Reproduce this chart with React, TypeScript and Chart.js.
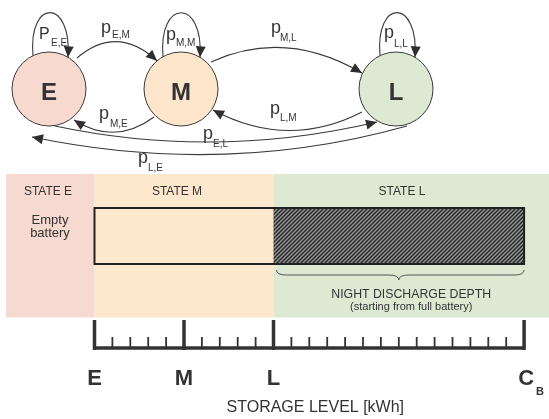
import { useEffect, useRef } from 'react';
import { Chart, registerables } from 'chart.js';

Chart.register(...registerables);

// ---------------- data ----------------
const stateNames = ['E', 'M', 'L'];
const stateLevels = [0, 5, 10]; // storage-level thresholds (axis units)
const capacityLevel = 24; // C_B
const capacityName = 'C';
const capacitySub = 'B';
const minorStep = 1;
const bandTitles = ['STATE E', 'STATE M', 'STATE L'];
const emptyNote = ['Empty', 'battery'];
const depthNote = ['NIGHT DISCHARGE DEPTH', '(starting from full battery)'];
const axisTitle = 'STORAGE LEVEL [kWh]';
const transitionFrom = ['E', 'E', 'M', 'M', 'M', 'L', 'L', 'E', 'L'];
const transitionTo = ['E', 'M', 'M', 'E', 'L', 'L', 'M', 'L', 'E'];
const transitionSymbol = ['P', 'p', 'p', 'p', 'p', 'p', 'p', 'p', 'p'];

// ---------------- layout / style ----------------
const W = 549;
const H = 419;
const AX0 = 94.5; // pixel of level 0
const AXK = 17.9; // pixels per level unit
const FONT = '"Liberation Sans", Arial, Helvetica, sans-serif';
const INK = '#333333';
const LINE = '#3a3a3a';
const nodeX = [49, 181, 396];
const nodeY = 89;
const nodeR = 37;
const nodeFill = ['#f8d9d0', '#fde6cb', '#dde9d3'];
const bandFill = ['#f6d9d0', '#fde7cd', '#dee9d4'];
const bandLeft = 6;
const bandTop = 174;
const bandBottom = 317.5;
const battTop = 208;
const battBottom = 264;
const baseY = 348;
const majorTickMid = 335;
const majorTickHalf = 15;
const minorTickMid = 342.5;
const minorTickHalf = 5.5;

const edgePaths: Record<string, number[]> = {
  'E,E': [33, 55.6, 28, -2, 72, -2, 68, 57.3],
  'M,M': [163, 56.7, 158, -2, 204, -2, 200, 57.3],
  'L,L': [380, 55.6, 375, -2, 419, -2, 415, 57.3],
  'E,M': [77, 58, 117, 24, 157, 60.8],
  'M,E': [154, 117, 115, 146, 74, 120],
  'M,L': [211, 62, 285, 28, 362, 73],
  'L,M': [362, 112, 288, 150, 213, 110],
  'E,L': [55, 126, 215, 160, 377, 122],
  'L,E': [407, 126, 225, 177, 32, 137],
};

// [mainX, mainBaseline, subX, subBaseline]
const labelPos: Record<string, number[]> = {
  'E,E': [39, 39, 51, 45.5],
  'E,M': [101, 33, 112, 37.5],
  'M,M': [166, 39.5, 176, 45.5],
  'M,L': [271, 33.2, 280, 40.5],
  'L,L': [384, 38.2, 394, 46.5],
  'M,E': [99, 119.2, 110, 126.5],
  'L,M': [270, 114.2, 280, 120.5],
  'E,L': [203, 139.2, 213, 146.5],
  'L,E': [138, 163.2, 148, 170.5],
};

const bandTitleX = [48, 177, 402];
const bandTitleY = 195;

function makeHatch(): CanvasPattern | string {
  const s = 4;
  const c = document.createElement('canvas');
  c.width = s;
  c.height = s;
  const g = c.getContext('2d');
  if (!g) return '#555';
  g.fillStyle = '#9a9a9a';
  g.fillRect(0, 0, s, s);
  g.strokeStyle = '#262626';
  g.lineWidth = 1.5;
  g.beginPath();
  g.moveTo(0, s);
  g.lineTo(s, 0);
  g.moveTo(-1, 1);
  g.lineTo(1, -1);
  g.moveTo(s - 1, s + 1);
  g.lineTo(s + 1, s - 1);
  g.stroke();
  const p = g.createPattern(c, 'repeat');
  return p || '#555';
}

function arrowHead(ctx: CanvasRenderingContext2D, tx: number, ty: number, fx: number, fy: number) {
  const a = Math.atan2(ty - fy, tx - fx);
  const len = 11;
  const hw = 5;
  const bx = tx - Math.cos(a) * len;
  const by = ty - Math.sin(a) * len;
  ctx.beginPath();
  ctx.moveTo(tx, ty);
  ctx.lineTo(bx + Math.sin(a) * hw, by - Math.cos(a) * hw);
  ctx.lineTo(bx - Math.sin(a) * hw, by + Math.cos(a) * hw);
  ctx.closePath();
  ctx.fill();
}

const diagramPlugin = {
  id: 'diagram',
  beforeDatasetsDraw(chart: any) {
    const ctx: CanvasRenderingContext2D = chart.ctx;
    const X = (v: number) => chart.scales.x.getPixelForValue(v);
    const D = (v: number) => chart.scales.xd.getPixelForValue(v);
    const Y = (v: number) => chart.scales.y.getPixelForValue(v);
    ctx.save();
    // state bands
    const edges = [D(bandLeft), X(stateLevels[0]), X(stateLevels[2]), chart.chartArea.right];
    for (let i = 0; i < 3; i++) {
      ctx.fillStyle = bandFill[i];
      ctx.fillRect(edges[i], Y(bandTop), edges[i + 1] - edges[i], Y(bandBottom) - Y(bandTop));
    }
    // battery
    const bx0 = X(stateLevels[0]);
    const bx1 = X(capacityLevel);
    const bxl = X(stateLevels[2]);
    ctx.fillStyle = makeHatch();
    ctx.fillRect(bxl, Y(battTop), bx1 - bxl, Y(battBottom) - Y(battTop));
    ctx.strokeStyle = '#222';
    ctx.lineWidth = 2;
    ctx.strokeRect(bx0, Y(battTop), bx1 - bx0, Y(battBottom) - Y(battTop));
    // brace
    const y0 = Y(270);
    const d = 10;
    const q = 10;
    const l = bxl + 3;
    const r = bx1;
    const m = (bxl + bx1) / 2;
    ctx.strokeStyle = '#555';
    ctx.lineWidth = 1;
    ctx.beginPath();
    ctx.moveTo(l, y0);
    ctx.quadraticCurveTo(l, y0 + d / 2, l + q, y0 + d / 2);
    ctx.lineTo(m - q, y0 + d / 2);
    ctx.quadraticCurveTo(m, y0 + d / 2, m, y0 + d);
    ctx.quadraticCurveTo(m, y0 + d / 2, m + q, y0 + d / 2);
    ctx.lineTo(r - q, y0 + d / 2);
    ctx.quadraticCurveTo(r, y0 + d / 2, r, y0);
    ctx.stroke();
    // texts
    ctx.fillStyle = INK;
    ctx.textAlign = 'center';
    ctx.textBaseline = 'alphabetic';
    ctx.font = `12px ${FONT}`;
    bandTitles.forEach((t, i) => ctx.fillText(t, D(bandTitleX[i]), Y(bandTitleY)));
    ctx.font = `13px ${FONT}`;
    ctx.fillText(emptyNote[0], D(50), Y(224));
    ctx.fillText(emptyNote[1], D(50), Y(237));
    const cx = (X(stateLevels[2]) + chart.chartArea.right) / 2;
    ctx.font = `12.3px ${FONT}`;
    ctx.fillText(depthNote[0], cx, Y(297.5));
    ctx.font = `11px ${FONT}`;
    ctx.fillText(depthNote[1], cx, Y(310));
    ctx.restore();
  },
  afterDatasetsDraw(chart: any) {
    const ctx: CanvasRenderingContext2D = chart.ctx;
    const X = (v: number) => chart.scales.x.getPixelForValue(v);
    const D = (v: number) => chart.scales.xd.getPixelForValue(v);
    const Y = (v: number) => chart.scales.y.getPixelForValue(v);
    ctx.save();
    // transitions
    ctx.strokeStyle = LINE;
    ctx.fillStyle = '#2e2e2e';
    ctx.lineWidth = 1.1;
    transitionFrom.forEach((f, i) => {
      const key = `${f},${transitionTo[i]}`;
      const p = edgePaths[key];
      ctx.beginPath();
      ctx.moveTo(D(p[0]), Y(p[1]));
      let fx: number;
      let fy: number;
      let tx: number;
      let ty: number;
      if (p.length === 8) {
        ctx.bezierCurveTo(D(p[2]), Y(p[3]), D(p[4]), Y(p[5]), D(p[6]), Y(p[7]));
        fx = D(p[4]); fy = Y(p[5]); tx = D(p[6]); ty = Y(p[7]);
      } else {
        ctx.quadraticCurveTo(D(p[2]), Y(p[3]), D(p[4]), Y(p[5]));
        fx = D(p[2]); fy = Y(p[3]); tx = D(p[4]); ty = Y(p[5]);
      }
      ctx.stroke();
      arrowHead(ctx, tx, ty, fx, fy);
    });
    // transition labels
    ctx.fillStyle = INK;
    ctx.textAlign = 'left';
    ctx.textBaseline = 'alphabetic';
    transitionFrom.forEach((f, i) => {
      const key = `${f},${transitionTo[i]}`;
      const lp = labelPos[key];
      ctx.font = `${transitionSymbol[i] === 'P' ? 16 : 18}px ${FONT}`;
      ctx.fillText(transitionSymbol[i], D(lp[0]), Y(lp[1]));
      ctx.font = `10px ${FONT}`;
      ctx.fillText(key, D(lp[2]), Y(lp[3]));
    });
    // node letters
    ctx.textAlign = 'center';
    ctx.font = `bold 24px ${FONT}`;
    stateNames.forEach((s, i) => ctx.fillText(s, D(nodeX[i]), Y(nodeY + 10.5)));
    // axis labels
    ctx.font = `bold 22px ${FONT}`;
    stateNames.forEach((s, i) => ctx.fillText(s, X(stateLevels[i]), Y(385)));
    ctx.fillText(capacityName, X(capacityLevel) + 2, Y(385));
    ctx.textAlign = 'left';
    ctx.font = `bold 11px ${FONT}`;
    ctx.fillText(capacitySub, X(capacityLevel) + 12, Y(395));
    ctx.textAlign = 'center';
    ctx.font = `16px ${FONT}`;
    ctx.fillText(axisTitle, (X(stateLevels[0]) + X(capacityLevel)) / 2 + 6, Y(411.5));
    ctx.restore();
  },
};

const majorLevels = [...stateLevels, capacityLevel];
const minorLevels: number[] = [];
for (let v = stateLevels[0] + minorStep; v < capacityLevel; v += minorStep) {
  if (!majorLevels.includes(v)) minorLevels.push(v);
}

export default function App() {
  const ref = useRef<HTMLCanvasElement>(null);
  useEffect(() => {
    const canvas = ref.current;
    if (!canvas) return;
    const chart = new Chart(canvas, {
      type: 'scatter',
      data: {
        datasets: [
          {
            label: 'states',
            xAxisID: 'xd',
            yAxisID: 'y',
            data: stateNames.map((_, i) => ({ x: nodeX[i], y: nodeY })),
            pointRadius: nodeR,
            pointBackgroundColor: nodeFill,
            pointBorderColor: '#3a3a3a',
            pointBorderWidth: 1,
            clip: false,
          } as any,
          {
            label: 'major ticks',
            xAxisID: 'x',
            yAxisID: 'y',
            data: majorLevels.map((v) => ({ x: v, y: majorTickMid })),
            pointStyle: 'line',
            pointRotation: 90,
            pointRadius: majorTickHalf,
            pointBorderColor: '#333',
            pointBorderWidth: 3.5,
            clip: false,
          } as any,
          {
            label: 'minor ticks',
            xAxisID: 'x',
            yAxisID: 'y',
            data: minorLevels.map((v) => ({ x: v, y: minorTickMid })),
            pointStyle: 'line',
            pointRotation: 90,
            pointRadius: minorTickHalf,
            pointBorderColor: '#333',
            pointBorderWidth: 1.8,
            clip: false,
          } as any,
          {
            type: 'line',
            label: 'axis',
            xAxisID: 'x',
            yAxisID: 'y',
            data: [
              { x: stateLevels[0], y: baseY },
              { x: capacityLevel, y: baseY },
            ],
            borderColor: '#333',
            borderWidth: 3.5,
            pointRadius: 0,
            clip: false,
          } as any,
        ],
      },
      options: {
        animation: false,
        responsive: false,
        events: [],
        layout: { padding: 0, autoPadding: false },
        plugins: { legend: { display: false }, tooltip: { enabled: false } },
        scales: {
          x: { type: 'linear', min: -AX0 / AXK, max: (W - AX0) / AXK, display: false },
          xd: { type: 'linear', axis: 'x', position: 'bottom', min: 0, max: W, display: false },
          y: { type: 'linear', min: 0, max: H, reverse: true, display: false },
        },
      } as any,
      plugins: [diagramPlugin],
    });
    return () => chart.destroy();
  }, []);
  return (
    <div style={{ position: 'fixed', left: 0, top: 0, width: W, height: H, background: '#fff' }}>
      <canvas ref={ref} width={W} height={H} style={{ display: 'block', width: W, height: H }} />
    </div>
  );
}
